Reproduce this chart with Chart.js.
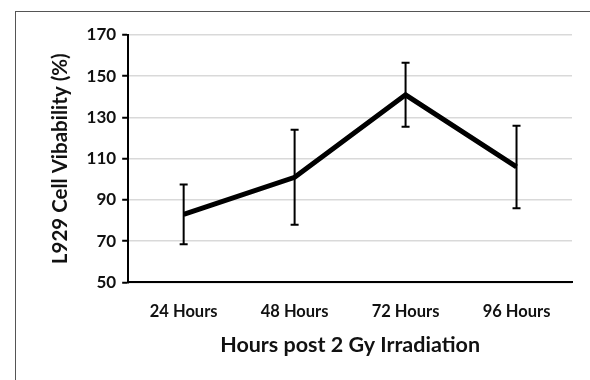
<!DOCTYPE html>
<html>
<head>
<meta charset="utf-8">
<script src="https://cdn.jsdelivr.net/npm/chart.js@4/dist/chart.umd.min.js"></script>
<style>
  html, body { margin: 0; padding: 0; background: #fff; }
  #wrap { position: relative; width: 590px; height: 380px; }
  #frame { position: absolute; left: 15px; top: 11px; right: 0; bottom: 0;
           border-left: 1px solid #555; border-top: 1px solid #555; }
  canvas { position: absolute; left: 0; top: 0; }
</style>
</head>
<body>
<div id="wrap">
  <div id="frame"></div>
  <canvas id="chart" width="590" height="380"></canvas>
</div>
<script>
const categories = ['24 Hours', '48 Hours', '72 Hours', '96 Hours'];
const viability = [83, 101, 141, 106];
const errors = [14.5, 23, 15.5, 20];

const fontFamily = 'Lato, "Open Sans", sans-serif';

// draws the vertical error bars with caps
const errorBars = {
  id: 'errorBars',
  afterDatasetsDraw(chart) {
    const ctx = chart.ctx;
    const x = chart.scales.x, y = chart.scales.y;
    ctx.save();
    ctx.strokeStyle = '#000';
    ctx.lineWidth = 2;
    viability.forEach((v, i) => {
      const px = x.getPixelForValue(i);
      const top = y.getPixelForValue(v + errors[i]);
      const bot = y.getPixelForValue(v - errors[i]);
      ctx.beginPath();
      ctx.moveTo(px, top); ctx.lineTo(px, bot);
      ctx.moveTo(px - 4, top); ctx.lineTo(px + 4, top);
      ctx.moveTo(px - 4, bot); ctx.lineTo(px + 4, bot);
      ctx.stroke();
    });
    ctx.restore();
  }
};

new Chart(document.getElementById('chart'), {
  type: 'line',
  data: {
    labels: categories,
    datasets: [{
      data: viability,
      borderColor: '#000',
      borderWidth: 5,
      pointRadius: 0,
      tension: 0
    }]
  },
  options: {
    responsive: false,
    animation: false,
    layout: { padding: { top: 35, right: 18, left: 44, bottom: 18 } },
    plugins: { legend: { display: false }, tooltip: { enabled: false } },
    scales: {
      x: {
        offset: true,
        grid: { display: false },
        border: { color: '#000', width: 2 },
        ticks: { color: '#111', font: { family: fontFamily, size: 16.5, weight: 'bold' }, padding: 11 },
        title: { display: true, text: 'Hours post 2 Gy Irradiation', color: '#111',
                 font: { family: fontFamily, size: 21.5, weight: 'bold' }, padding: { top: 0 } }
      },
      y: {
        min: 50, max: 170,
        ticks: { stepSize: 20, color: '#111', font: { family: fontFamily, size: 17, weight: 'bold' }, padding: 6 },
        grid: { color: '#d9d9d9', lineWidth: 1.5, tickLength: 6, tickColor: '#000', tickWidth: 2 },
        border: { color: '#000', width: 2 },
        title: { display: true, text: 'L929 Cell Vibability (%)', color: '#111',
                 font: { family: fontFamily, size: 20.5, weight: 'bold' }, padding: { bottom: 8 } }
      }
    }
  },
  plugins: [errorBars]
});
</script>
</body>
</html>
